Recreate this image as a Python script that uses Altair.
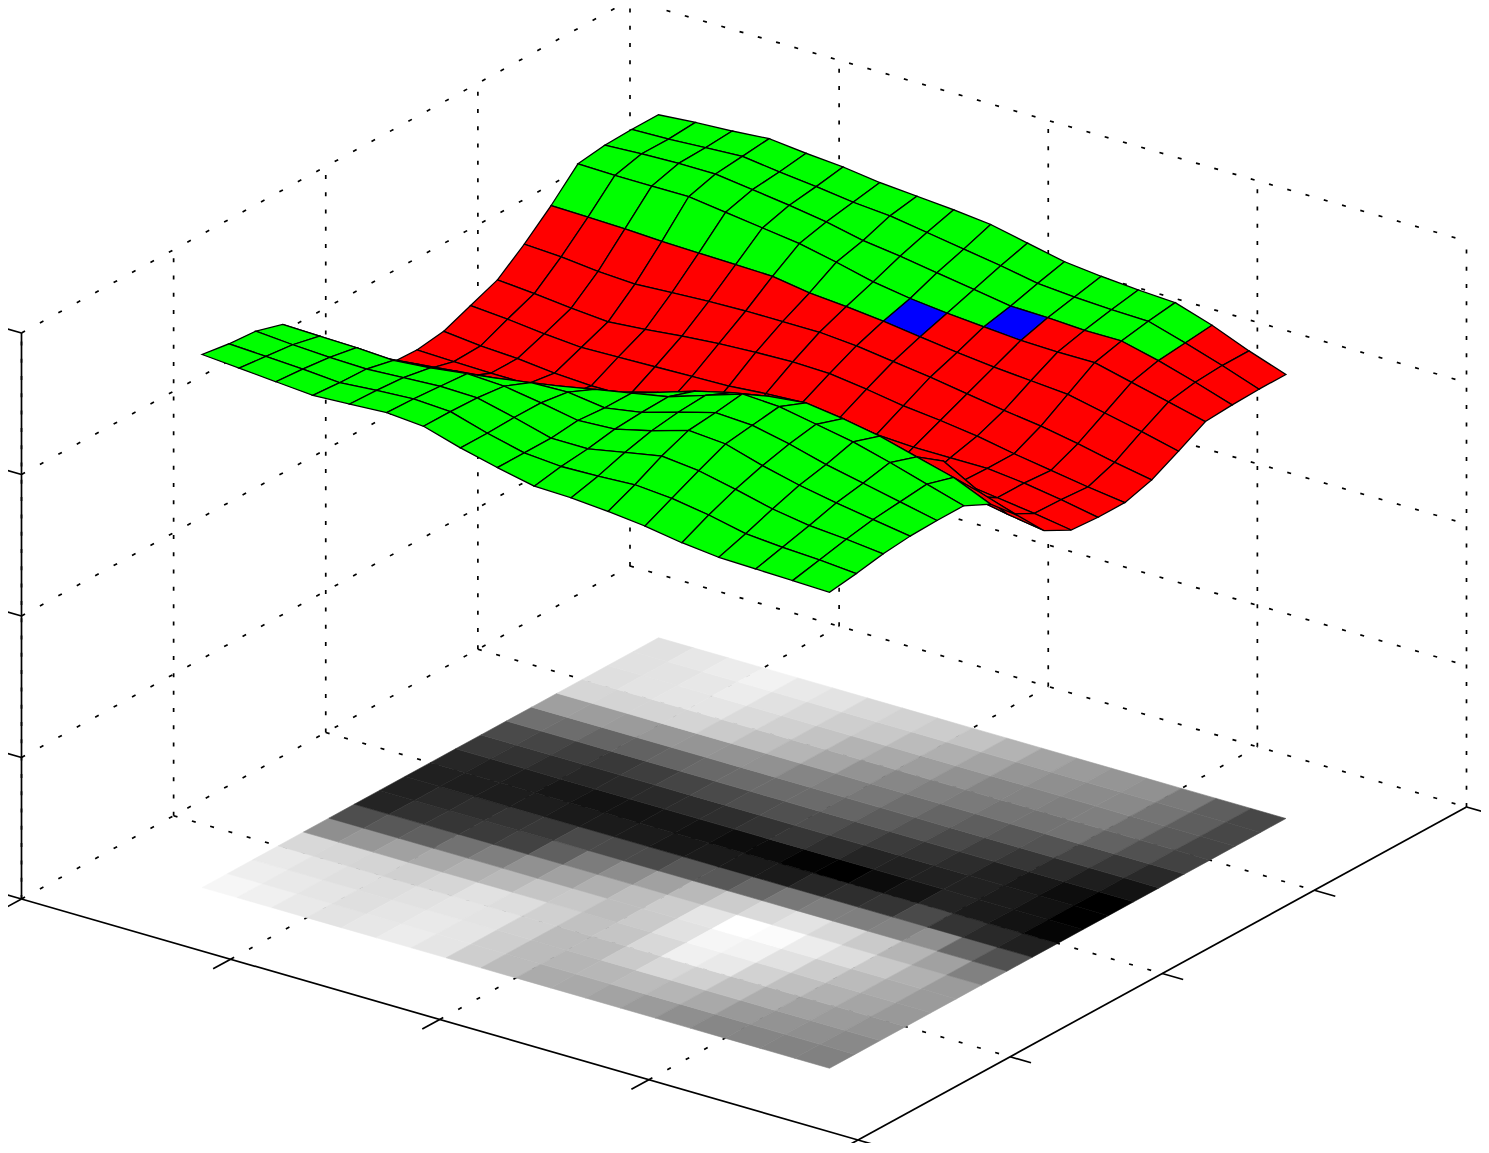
import altair as alt

# Surface heights, one row per y index (front to back), one value per x index
Z_ROWS = [
    [533,530,527,524,526,528,525,514,505,497,496,493,489,483,479,478,477,476],
    [529,527,525,522,525,527,525,514,505,502,503,505,502,496,488,485,483,480],
    [527,524,522,521,523,525,524,515,505,505,512,519,515,507,498,492,489,485],
    [519,518,517,515,518,523,521,515,508,510,519,530,527,516,507,500,494,488],
    [483,487,492,496,500,504,510,511,506,512,523,533,531,523,513,505,497,489],
    [448,454,458,468,475,484,492,499,506,513,525,537,535,528,521,511,500,489],
    [423,431,434,437,441,458,473,482,492,504,513,520,524,519,512,502,492,476],
    [421,426,429,433,435,446,446,446,454,454,462,471,475,475,477,483,462,450],
    [420,419,418,418,416,417,417,414,416,416,416,425,429,433,446,433,426,420],
    [424,420,418,414,412,412,413,411,409,408,405,404,408,412,422,417,412,406],
    [435,432,428,425,426,427,428,429,432,434,429,423,421,421,421,417,411,404],
    [446,443,439,436,439,443,446,448,449,448,443,437,433,428,421,415,409,404],
    [467,465,461,459,461,463,464,464,464,461,456,451,445,439,434,427,419,412],
    [491,490,489,487,486,485,484,478,475,471,466,461,457,454,451,443,435,426],
    [518,517,517,517,512,507,502,494,485,479,475,472,469,468,468,459,450,441],
    [522,524,525,525,520,515,509,501,496,490,484,478,477,475,475,466,455,443],
    [523,524,526,528,523,519,514,511,505,499,493,486,483,481,480,469,457,444],
    [523,526,528,531,527,524,519,516,513,509,501,493,489,486,484,472,457,444],
]
# Colour class per surface cell: first y row of each band
GREEN_FRONT_ROWS = 6      # rows 0..5 green
RED_ROWS_END = 13         # rows 6..12 red
BLUE_CELLS = [(9, 13), (11, 14)]
RED_BACK_CELLS = [(10, 13), (11, 13), (12, 13), (13, 13), (14, 13), (15, 13), (16, 13),
                  (12, 14), (13, 14), (14, 14), (15, 14), (16, 14),
                  (15, 15), (16, 15), (15, 16), (16, 16)]
X_TICKS = [0, 1, 2, 3, 4]
Y_TICKS = [0, 1, 2, 3, 4]
Z_TICKS = [0, 1, 2, 3, 4]
GRID_MIN, GRID_MAX = 0.5, 3.5
Z_PER_TICK = 141.5
Z_GRAY_DOMAIN = [404, 537]

# Oblique view of the 3-D box
ORIGIN = (21.5, 899.0)
X_VEC = (836.5 / 4, 241.0 / 4)
Y_VEC = (608.5 / 4, -333.0 / 4)
Z_VEC = -1.0  # per surface height unit


def proj(x, y, z=0.0):
    return [ORIGIN[0] + x * X_VEC[0] + y * Y_VEC[0],
            ORIGIN[1] + x * X_VEC[1] + y * Y_VEC[1] + z * Z_VEC]


def zt(k):
    return k * Z_PER_TICK


def line(a, b):
    return {"type": "Feature", "properties": {},
            "geometry": {"type": "LineString", "coordinates": [a, b]}}


def poly(pts, **props):
    return {"type": "Feature", "properties": props,
            "geometry": {"type": "Polygon", "coordinates": [pts + [pts[0]]]}}


n = len(Z_ROWS)
cells = n - 1
gu = [GRID_MIN + (GRID_MAX - GRID_MIN) * i / cells for i in range(n)]
gf = [GRID_MIN + (GRID_MAX - GRID_MIN) * i / n for i in range(n + 1)]

# floor image: one flat cell per surface vertex
floor = []
for j in range(n):
    for i in range(n):
        floor.append(poly([proj(gf[i], gf[j]), proj(gf[i + 1], gf[j]),
                           proj(gf[i + 1], gf[j + 1]), proj(gf[i], gf[j + 1])],
                          z=Z_ROWS[j][i]))


def cell_colour(i, j):
    if (i, j) in BLUE_CELLS:
        return "#0000ff"
    if (i, j) in RED_BACK_CELLS:
        return "#ff0000"
    if j < GREEN_FRONT_ROWS or j >= RED_ROWS_END:
        return "#00ff00"
    return "#ff0000"


# surface, painted back to front
surface = []
for j in range(cells - 1, -1, -1):
    for i in range(cells):
        surface.append(poly([proj(gu[i], gu[j], Z_ROWS[j][i]),
                             proj(gu[i + 1], gu[j], Z_ROWS[j][i + 1]),
                             proj(gu[i + 1], gu[j + 1], Z_ROWS[j + 1][i + 1]),
                             proj(gu[i], gu[j + 1], Z_ROWS[j + 1][i])],
                            c=cell_colour(i, j)))

xmax, ymax, ztop = X_TICKS[-1], Y_TICKS[-1], zt(Z_TICKS[-1])

# dotted grid, one list per screen direction
grid_along_y = [line(proj(x, 0), proj(x, ymax)) for x in X_TICKS[:-1]]
grid_along_y += [line(proj(0, 0, zt(k)), proj(0, ymax, zt(k))) for k in Z_TICKS[1:]]
grid_along_x = [line(proj(0, y), proj(xmax, y)) for y in Y_TICKS[1:]]
grid_along_x += [line(proj(0, ymax, zt(k)), proj(xmax, ymax, zt(k))) for k in Z_TICKS[1:]]
grid_vert = [line(proj(0, y), proj(0, y, ztop)) for y in Y_TICKS]
grid_vert += [line(proj(x, ymax), proj(x, ymax, ztop)) for x in X_TICKS[1:]]

# solid axes and ticks
axes = [line(proj(0, 0), proj(xmax, 0)), line(proj(xmax, 0), proj(xmax, ymax)),
        line(proj(0, 0), proj(0, 0, ztop))]
TICK_Y_DIR = 0.115   # x-axis tick length, in y units
TICK_X_DIR = 0.1     # y- and z-axis tick length, in x units
axes += [line(proj(x, 0), proj(x, -TICK_Y_DIR)) for x in X_TICKS]
axes += [line(proj(xmax, y), proj(xmax + TICK_X_DIR, y)) for y in Y_TICKS]
axes += [line(proj(0, 0, zt(k)), proj(-TICK_X_DIR, 0, zt(k))) for k in Z_TICKS]

PROJ = dict(type="identity", scale=1, translate=[-8, -8])


def lines(feats, dash=None, width=1.7):
    kw = {"strokeDash": dash} if dash else {}
    return (alt.Chart(alt.Data(values=feats))
            .mark_geoshape(filled=False, stroke="black", strokeWidth=width, **kw)
            .project(**PROJ))


gray = alt.Scale(domain=Z_GRAY_DOMAIN, range=["#000000", "#ffffff"])
floor_layer = (alt.Chart(alt.Data(values=floor))
               .mark_geoshape(strokeWidth=0.6)
               .encode(fill=alt.Fill("properties.z:Q", scale=gray, legend=None),
                       stroke=alt.Stroke("properties.z:Q", scale=gray, legend=None))
               .project(**PROJ))
surface_layer = (alt.Chart(alt.Data(values=surface))
                 .mark_geoshape(stroke="black", strokeWidth=1.3)
                 .encode(fill=alt.Fill("properties.c:N", scale=None))
                 .project(**PROJ))

chart = (alt.layer(lines(grid_along_y, [4, 17]), lines(grid_along_x, [4, 15]),
                   lines(grid_vert, [4, 13.3]), lines(axes, width=1.7),
                   floor_layer, surface_layer)
         .resolve_scale(fill="independent", stroke="independent")
         .properties(width=1473, height=1135, padding=0,
                     autosize=alt.AutoSizeParams(type="none"))
         .configure_view(stroke=None))

chart.save("out.html", embed_options={"renderer": "svg", "actions": False})
